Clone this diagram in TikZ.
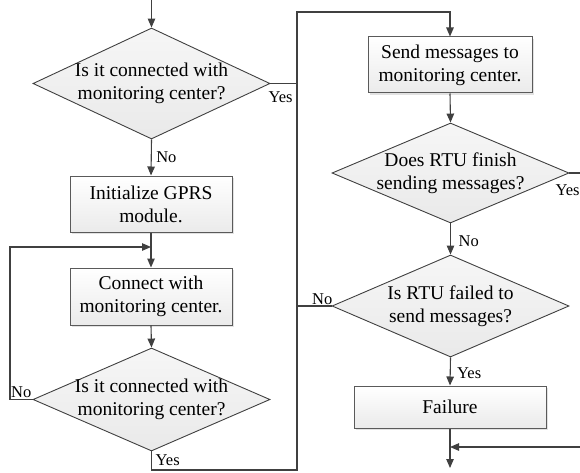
\documentclass[tikz,border=0pt]{standalone}
\usepackage{fontspec}
\setmainfont{Liberation Serif}
\usetikzlibrary{shapes.geometric,arrows.meta,shadows,calc}
\definecolor{linegray}{HTML}{404040}
\definecolor{boxgray}{HTML}{5A5A5A}

\begin{document}
\begin{tikzpicture}[x=1pt,y=-1pt,
  line/.style={draw=linegray, line width=1.1pt},
  flow/.style={line, -{Triangle[length=9pt,width=7.5pt]}},
  txt/.style={font=\fontsize{19.5}{23}\selectfont, align=center},
  process/.style={rectangle, draw=boxgray, line width=1pt, txt,
    top color=white, bottom color=gray!16, inner sep=0pt,
    drop shadow={shadow xshift=1.6pt, shadow yshift=-1.6pt, fill=gray!45, opacity=0.5}},
  decision/.style={diamond, draw=linegray, line width=0.9pt,
    top color=gray!7, bottom color=gray!17, minimum width=237pt, inner sep=0pt},
  dtext/.style={txt, inner sep=0pt},
  lab/.style={font=\fontsize{16.5}{19}\selectfont, inner sep=0pt}
]
\useasboundingbox (0,0) rectangle (580,473);
\clip (0,0) rectangle (580,473);

% left column
\node[decision, minimum height=111pt,
  label={[dtext]center:{Is it connected with\\monitoring center?}}] (d1) at (151.5,83.5) {};
\node[process, minimum width=162pt, minimum height=56pt] (b1) at (151,204) {Initialize GPRS\\module.};
\node[process, minimum width=162pt, minimum height=57pt] (b2) at (151,296.5) {Connect with\\monitoring center.};
\node[decision, minimum height=103pt,
  label={[dtext]center:{Is it connected with\\monitoring center?}}] (d2) at (151.5,399.5) {};

% right column
\node[process, minimum width=164pt, minimum height=56pt] (b3) at (450,65) {Send messages to\\monitoring center.};
\node[decision, minimum height=100pt,
  label={[dtext]center:{Does RTU finish\\sending messages?}}] (d3) at (450.5,173) {};
\node[decision, minimum height=102pt,
  label={[dtext]center:{Is RTU failed to\\send messages?}}] (d4) at (450.5,306) {};
\node[process, minimum width=192pt, minimum height=42pt] (b4) at (450,407) {Failure};

% helper points of the connectors
\coordinate (start) at (151.5,0);
\coordinate (busT) at (297,12);
\coordinate (busB) at (297,470);
\coordinate (loopL) at (10,247);
\coordinate (merge) at (b1.south |- loopL);
\coordinate (rightbus) at (592,447);
\coordinate (merge2) at (b4.south |- rightbus);
\coordinate (finish) at (450,468);

% left column connectors
\draw[flow] (start) -- (d1.north);
\draw[flow] (d1.south) -- node[lab, anchor=west, xshift=4.5pt] (l1) {No} (b1.north);
\draw[flow] (b1.south) -- (b2.north);
\draw[flow] (b2.south) -- (d2.north);
\draw[flow] (d2.west) -- (d2.west -| loopL) -- (loopL) -- (merge);
\node[lab, anchor=south east] (l2) at ($(d2.west)+(-1,-1.5)$) {No};

% connection to the sending branch
\draw[flow] (d2.south) -- (d2.south |- busB) -- (busB) -- (busT) -| (b3.north);
\node[lab, anchor=west] (l3) at ($(d2.south)+(4,8.5)$) {Yes};
\draw[line] (d1.east) -- (d1.east -| busT);
\node[lab, anchor=west] (l4) at ($(d1.east)+(-2,13.5)$) {Yes};
\draw[line] (d4.west) -- (d4.west -| busT);
\node[lab, anchor=south east] (l5) at ($(d4.west)+(1,-1.5)$) {No};

% right column connectors
\draw[flow] (b3.south) -- (d3.north);
\draw[flow] (d3.south) -- (d4.north);
\node[lab, anchor=west] (l6) at ($(d3.south)+(8,18)$) {No};
\draw[flow] (d3.east) -- (d3.east -| rightbus) -- (rightbus) -- (merge2);
\node[lab, anchor=west] (l7) at ($(d3.east)+(-14,17.5)$) {Yes};
\draw[flow] (d4.south) -- (b4.north);
\node[lab, anchor=west] (l8) at ($(d4.south)+(6.5,16)$) {Yes};
\draw[flow] (b4.south) -- (finish);
\end{tikzpicture}
\end{document}
